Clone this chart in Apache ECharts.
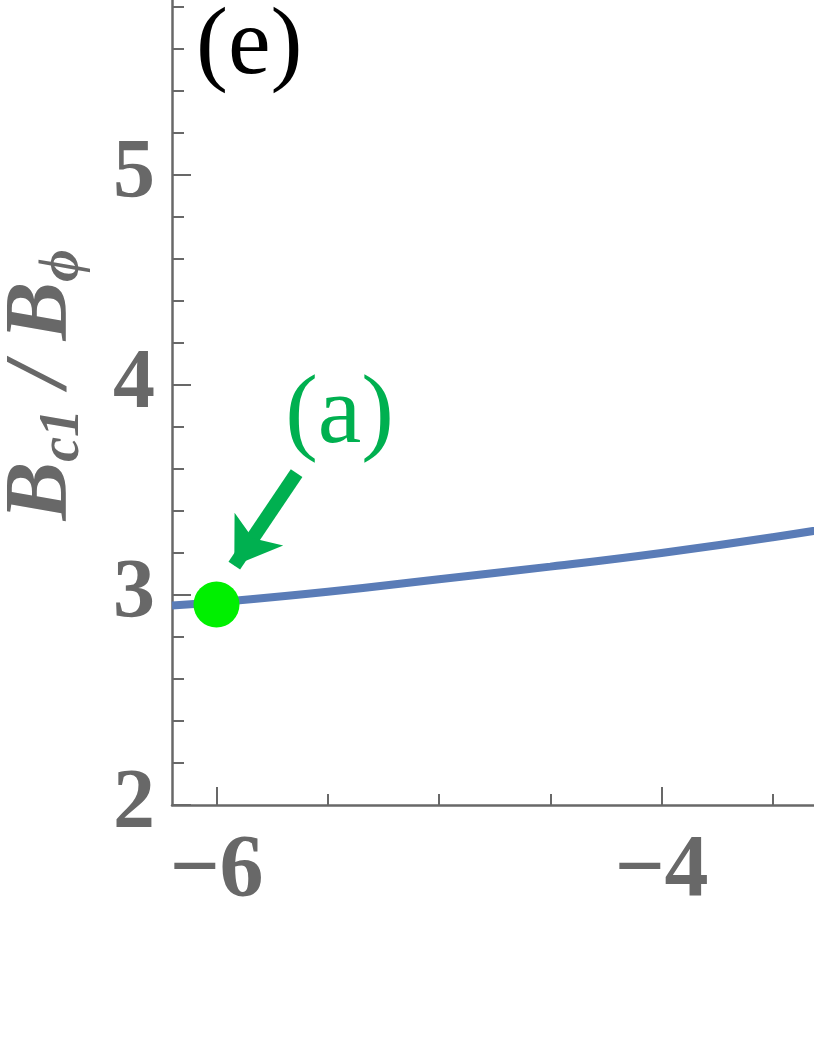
<!DOCTYPE html>
<html>
<head>
<meta charset="utf-8">
<script src="https://cdn.jsdelivr.net/npm/echarts@6/dist/echarts.min.js"></script>
<style>
  html, body { margin: 0; padding: 0; background: #fff; }
  #chart { width: 814px; height: 1053px; }
</style>
</head>
<body>
<div id="chart"></div>
<script>
// curve B_c1 / B_phi
const xValues = [-6.2, -6.0, -5.5, -5.0, -4.5, -4.0, -3.5, -3.0]
const yValues = [2.95, 2.965, 3.015, 3.075, 3.135, 3.2, 3.275, 3.36]
// highlighted point (a)
const pointA = [-6, 2.955]
// tick labels / tick positions on x
const xMajorTicks = [-6, -4]
const xMinorTicks = [-5.5, -5, -4.5, -3.5]

const axisGray = '#686868'
const labelFont = '"Liberation Serif", "Times New Roman", serif'

const chart = echarts.init(document.getElementById('chart'))

const sharedX = {
  type: 'value',
  min: -6.2,
  max: -3,
  position: 'bottom',
  splitLine: { show: false }
}

chart.setOption({
  animation: false,
  grid: {
    left: 172,
    right: -70,
    top: -35,
    bottom: 248,
    containLabel: false,
    outerBoundsMode: 'none'
  },
  xAxis: [
    {
      ...sharedX,
      axisLine: { show: true, onZero: false, lineStyle: { color: axisGray, width: 2.5 } },
      axisTick: {
        inside: true,
        length: 18,
        customValues: xMajorTicks,
        lineStyle: { color: axisGray, width: 2 }
      },
      axisLabel: {
        customValues: xMajorTicks,
        margin: 23,
        color: axisGray,
        fontFamily: labelFont,
        fontWeight: 'bold',
        fontSize: 88,
        formatter: v => String(v).replace('-', '\u2212')
      }
    },
    {
      ...sharedX,
      axisLine: { show: false, onZero: false },
      axisTick: {
        show: true,
        inside: true,
        length: 11,
        customValues: xMinorTicks,
        lineStyle: { color: axisGray, width: 2 }
      },
      axisLabel: { show: false }
    }
  ],
  yAxis: {
    type: 'value',
    min: 2,
    max: 6,
    interval: 1,
    splitLine: { show: false },
    axisLine: { show: true, lineStyle: { color: axisGray, width: 2.5 } },
    axisTick: { inside: true, length: 19, lineStyle: { color: axisGray, width: 2 } },
    minorTick: { show: true, splitNumber: 5, length: 12, lineStyle: { color: axisGray, width: 2 } },
    axisLabel: {
      margin: 17,
      color: axisGray,
      fontFamily: labelFont,
      fontWeight: 'bold',
      fontSize: 84
    },
    name: '{b|B}{s|c1}{b| / B}{s|\u03d5}',
    nameLocation: 'middle',
    nameGap: 86,
    nameTextStyle: {
      color: axisGray,
      rich: {
        b: {
          color: axisGray,
          fontFamily: labelFont,
          fontWeight: 'bold',
          fontStyle: 'italic',
          fontSize: 88,
          lineHeight: 88
        },
        s: {
          color: axisGray,
          fontFamily: labelFont,
          fontWeight: 'bold',
          fontStyle: 'italic',
          fontSize: 56,
          lineHeight: 56,
          padding: [44, 0, 0, 0]
        }
      }
    }
  },
  graphic: [
    {
      type: 'text',
      left: 196,
      top: 0,
      style: {
        text: '(e)',
        fill: '#000',
        fontFamily: labelFont,
        fontSize: 96
      }
    }
  ],
  series: [
    {
      name: 'Bc1/Bphi',
      type: 'line',
      data: xValues.map((x, i) => [x, yValues[i]]),
      smooth: true,
      showSymbol: false,
      lineStyle: { color: '#5a7cb7', width: 8 },
      z: 2
    },
    {
      name: 'point a',
      type: 'scatter',
      data: [pointA],
      symbolSize: 46,
      itemStyle: { color: '#00f000', opacity: 1 },
      z: 3,
      markLine: {
        silent: true,
        symbol: ['none', 'arrow'],
        symbolSize: [44, 44],
        label: { show: false },
        lineStyle: { color: '#00b050', width: 14, type: 'solid' },
        data: [[{ coord: [-5.64, 3.58] }, { coord: [-5.92, 3.14] }]]
      },
      markPoint: {
        silent: true,
        symbol: 'circle',
        symbolSize: 1,
        itemStyle: { color: 'rgba(0,0,0,0)' },
        label: {
          show: true,
          position: 'inside',
          formatter: '(a)',
          color: '#00b050',
          fontFamily: labelFont,
          fontSize: 98
        },
        data: [{ coord: [-5.447, 3.85] }]
      }
    }
  ]
})

window.addEventListener('resize', () => chart.resize())
</script>
</body>
</html>
